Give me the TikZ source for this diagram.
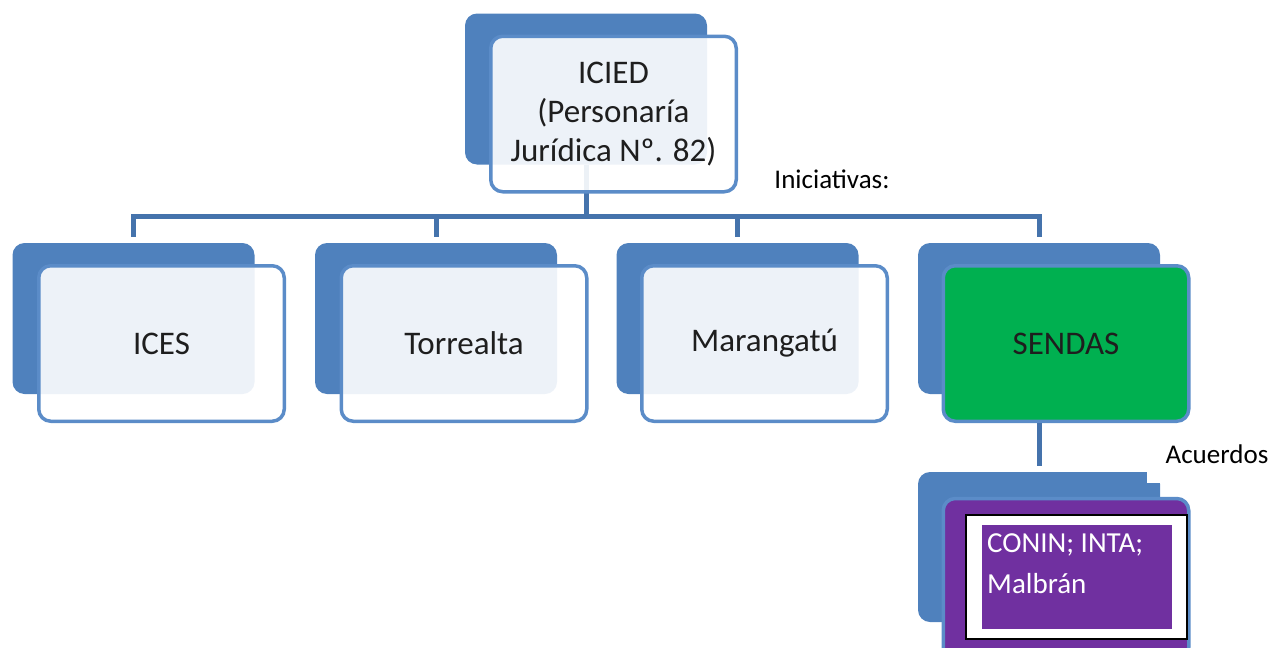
\documentclass[tikz,border=0pt]{standalone}
\usepackage{fontspec}
\setmainfont{Carlito}
\definecolor{bblue}{HTML}{4F81BD}
\definecolor{cblue}{HTML}{4573AC}
\definecolor{fblue}{HTML}{5B8CC8}
\definecolor{sgreen}{HTML}{00B050}
\definecolor{spurple}{HTML}{7030A0}
\definecolor{txt}{HTML}{1E1E1E}
\tikzset{
 backbox/.style={rectangle, rounded corners=12pt, fill=bblue, minimum width=242pt, minimum height=151pt, inner sep=0pt},
 frontbox/.style={rectangle, rounded corners=12pt, draw=fblue, line width=3.5pt, fill=white, fill opacity=0.9, text opacity=1, minimum width=245.5pt, minimum height=155.5pt, align=center, font=\fontsize{33}{39}\selectfont, text=txt, inner sep=0pt},
 conn/.style={draw=cblue, line width=5pt},
 lbl/.style={font=\fontsize{27}{32}\selectfont, text=black, inner sep=0pt}
}
\begin{document}
\begin{tikzpicture}[x=1pt,y=-1pt]
\useasboundingbox (0,0) rectangle (1270,648);
\clip (0,0) rectangle (1270,648);
% back boxes
\node[backbox] (b0) at (586,89) {};
\node[backbox] (b1) at (133.5,318.5) {};
\node[backbox] (b2) at (436,318.5) {};
\node[backbox] (b3) at (737.5,318.5) {};
\node[backbox] (b4) at (1039,318.5) {};
\node[backbox, minimum height=150pt] (b5) at (1039,547) {};
\fill[white] (1147,470) rectangle (1163,483);
% connectors
\coordinate (j) at (586,216.5);
\draw[conn] (b0.south) -- (j);
\draw[conn, shorten <=6pt, shorten >=6pt] (b1.north) -- (b1.north |- j) -- (b4.north |- j) -- (b4.north);
\draw[conn, shorten <=6pt] (b2.north) -- (b2.north |- j);
\draw[conn, shorten <=6pt] (b3.north) -- (b3.north |- j);
% front boxes
\node[frontbox] (f0) at (613.5,114) {ICIED\\(Personaría\\Jurídica Nº. 82)};
\node[frontbox] (f1) at (161.5,343.5) {ICES};
\node[frontbox] (f2) at (464,343.5) {Torrealta};
\node[frontbox] (f3) at (764.5,343.5) {Marangatú};
\node[frontbox, fill=sgreen, fill opacity=1] (f4) at (1066,343.5) {SENDAS};
\node[frontbox, fill=spurple, fill opacity=1, minimum height=161pt] (f5) at (1066,579) {};
\draw[conn, shorten >=6pt] (f4.south -| b4.south) -- (b5.north);
% inner boxes
\node[rectangle, draw=black, line width=2pt, fill=white, minimum width=221pt, minimum height=124pt, inner sep=0pt] (wb) at (1076.5,577) {};
\node[rectangle, fill=spurple, minimum width=190pt, minimum height=104pt, inner sep=0pt] (pb) at (1077,577) {};
\node[anchor=north west, inner sep=0pt, align=left, text=white, font=\fontsize{29}{41}\selectfont] (t5) at (987,533) {CONIN; INTA;\\Malbrán};
% labels
\node[lbl] (l1) at (832,179) {Iniciativas:};
\node[lbl] (l2) at (1217,454) {Acuerdos};
\end{tikzpicture}
\end{document}
